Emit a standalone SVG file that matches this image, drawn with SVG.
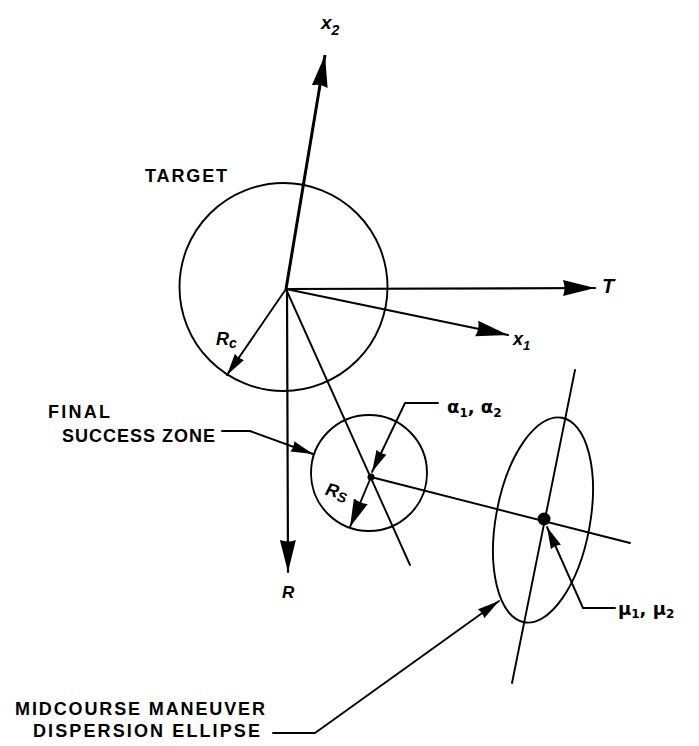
<svg xmlns="http://www.w3.org/2000/svg" width="699" height="746" viewBox="0 0 699 746">
<style>
.ln{stroke:#000;fill:none;stroke-width:1.9;stroke-linecap:round;stroke-linejoin:round}
.ax{stroke:#000;fill:none;stroke-width:2.2;stroke-linecap:round}
.cap{font-family:"Liberation Sans",Arial,sans-serif;font-weight:bold;font-size:18px;fill:#000}
.it{font-family:"Liberation Sans",Arial,sans-serif;font-style:italic;font-weight:bold;fill:#000}
.gr{font-family:"DejaVu Sans","Liberation Sans",sans-serif;font-weight:bold;fill:#000}
</style>
<defs>
<marker id="big" viewBox="0 0 32 17" refX="32" refY="8.5" markerWidth="32" markerHeight="17" markerUnits="userSpaceOnUse" orient="auto">
<path d="M0,0.5 L32,8.5 L0,16.5 Q3,8.5 0,0.5 Z" fill="#000"/>
</marker>
<marker id="sm" viewBox="0 0 22 12" refX="22" refY="6" markerWidth="22" markerHeight="12" markerUnits="userSpaceOnUse" orient="auto">
<path d="M0,0.5 L22,6 L0,11.5 Q2,6 0,0.5 Z" fill="#000"/>
</marker>
<marker id="mid" viewBox="0 0 28 16" refX="28" refY="8" markerWidth="28" markerHeight="16" markerUnits="userSpaceOnUse" orient="auto">
<path d="M0,0.5 L28,8 L0,15.5 Q2.5,8 0,0.5 Z" fill="#000"/>
</marker>
</defs>
<rect width="699" height="746" fill="#fff"/>

<g id="target">
<circle cx="283.5" cy="287" r="104" class="ln"/>
<text class="cap" x="145" y="182" textLength="82">TARGET</text>
</g>

<g id="success-zone">
<circle cx="369" cy="473" r="58" class="ln"/>
<circle cx="371" cy="477" r="3.5" fill="#000"/>
</g>

<g id="dispersion-ellipse">
<ellipse cx="543" cy="520" rx="47" ry="104" transform="rotate(10.5 543 520)" class="ln"/>
<circle cx="544" cy="519" r="6.5" fill="#000"/>
</g>

<g id="connectors">
<line x1="286" y1="289" x2="325" y2="55" stroke="#000" stroke-width="3" marker-end="url(#big)"/>
<line x1="286" y1="289" x2="595" y2="288" class="ax" marker-end="url(#big)"/>
<line x1="286" y1="289" x2="508" y2="335" class="ax" marker-end="url(#big)"/>
<line x1="287" y1="289" x2="288" y2="572" class="ax" marker-end="url(#big)"/>
<line x1="286" y1="289" x2="227" y2="375" class="ln" marker-end="url(#sm)"/>
<line x1="286" y1="289" x2="410" y2="565" class="ln"/>
<line x1="371" y1="477" x2="630" y2="543" class="ln"/>
<line x1="575" y1="370" x2="512" y2="683" class="ln"/>
<line x1="371" y1="477" x2="350" y2="527" class="ln" marker-end="url(#mid)"/>
<polyline points="438,403 405,403 372,472" class="ln" marker-end="url(#sm)"/>
<polyline points="615,608 583,608 547,527" class="ln" marker-end="url(#sm)"/>
<polyline points="222,431 250,431 313,454" class="ln" marker-end="url(#sm)"/>
<polyline points="273,733 315,733 499,601" class="ln" marker-end="url(#sm)"/>
</g>

<g id="labels">
<text class="it" x="321" y="29" font-size="19">x<tspan font-size="14" dy="6">2</tspan></text>
<text class="it" x="602" y="293" font-size="20">T</text>
<text class="it" x="513" y="345" font-size="18">x<tspan font-size="13" dy="5">1</tspan></text>
<text class="it" x="282" y="598" font-size="17">R</text>
<text class="it" x="216" y="345" font-size="18">R<tspan font-size="14" dy="3">c</tspan></text>
<text class="it" x="326" y="497" font-size="18" transform="rotate(15 335 490)">R<tspan font-size="14" dy="3">S</tspan></text>
<text class="gr" x="447" y="413" font-size="18">α<tspan font-size="12" dy="4">1</tspan><tspan dy="-4">, α</tspan><tspan font-size="12" dy="4">2</tspan></text>
<text class="gr" x="618" y="615" font-size="18">μ<tspan font-size="12" dy="3">1</tspan><tspan dy="-3">, μ</tspan><tspan font-size="12" dy="3">2</tspan></text>
<text class="cap" x="48" y="418" textLength="62">FINAL</text>
<text class="cap" x="62" y="442" textLength="153">SUCCESS ZONE</text>
<text class="cap" x="15" y="715" textLength="250" font-size="17">MIDCOURSE MANEUVER</text>
<text class="cap" x="33" y="737" textLength="227" font-size="17">DISPERSION ELLIPSE</text>
</g>
</svg>
